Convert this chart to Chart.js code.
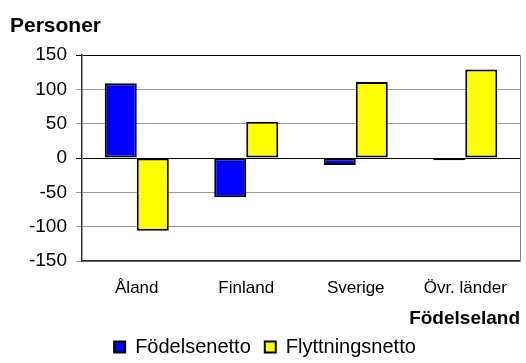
<!DOCTYPE html>
<html>
<head>
<meta charset="utf-8">
<script src="https://cdn.jsdelivr.net/npm/chart.js@4/dist/chart.umd.min.js"></script>
<style>
  html, body { margin: 0; padding: 0; background: #fff; }
  #wrap { width: 526px; height: 363px; }
</style>
</head>
<body>
<div id="wrap"><canvas id="flytt"></canvas></div>
<script>
const categories = ['Åland', 'Finland', 'Sverige', 'Övr. länder'];
const fodelsenetto = [109, -57, -10, -3];
const flyttningsnetto = [-106, 53, 111, 129];
const yMin = -150, yMax = 150, yStep = 50;

const FONT = "'Liberation Sans', Arial, sans-serif";

// thin grey frame line on the right edge of the plot area
const rightEdge = {
    id: 'rightEdge',
    afterDraw(chart) {
        const { ctx, chartArea } = chart;
        ctx.save();
        ctx.strokeStyle = '#808080';
        ctx.lineWidth = 1;
        ctx.beginPath();
        ctx.moveTo(chartArea.right + 0.5, chartArea.top);
        ctx.lineTo(chartArea.right + 0.5, chartArea.bottom);
        ctx.stroke();
        ctx.restore();
    }
};

new Chart(document.getElementById('flytt'), {
    type: 'bar',
    data: {
        labels: categories,
        datasets: [
            {
                label: 'Födelsenetto',
                data: fodelsenetto,
                backgroundColor: '#0000ff',
                borderColor: '#000',
                borderWidth: 2,
                borderSkipped: false
            },
            {
                label: 'Flyttningsnetto',
                data: flyttningsnetto,
                backgroundColor: '#ffff00',
                borderColor: '#000',
                borderWidth: 2,
                borderSkipped: false
            }
        ]
    },
    options: {
        responsive: true, maintainAspectRatio: false,
        animation: false,
        layout: { padding: { left: 10, right: 6, top: 4, bottom: -4 } },
        datasets: { bar: { categoryPercentage: 0.585, barPercentage: 1 } },
        scales: {
            x: {
                afterFit(scale) { scale.height = 62; },
                grid: { display: false, drawTicks: false },
                border: { color: '#333', width: 1.5 },
                ticks: { color: '#000', font: { family: FONT, size: 17 }, padding: 17, maxRotation: 0 },
                title: {
                    display: true, text: 'Födelseland', align: 'end', color: '#000',
                    font: { family: FONT, size: 19, weight: 'bold' }, padding: { top: 0, bottom: -7 }
                }
            },
            y: {
                min: yMin, max: yMax,
                afterFit(scale) { scale.width = 72; },
                grid: {
                    color: c => (c.tick.value === 0 || c.tick.value === yMax) ? '#000' : '#999',
                    lineWidth: 1,
                    tickLength: 6
                },
                border: { color: '#333', width: 1.5 },
                ticks: { stepSize: yStep, color: '#000', font: { family: FONT, size: 19 }, padding: 9 }
            }
        },
        plugins: {
            title: {
                display: true, text: 'Personer', align: 'start', color: '#000',
                font: { family: FONT, size: 21, weight: 'bold' }, padding: { top: 10, bottom: 16 }
            },
            legend: {
                position: 'bottom',
                labels: {
                    color: '#000', font: { family: FONT, size: 20 },
                    boxWidth: 11, boxHeight: 11, padding: 14
                }
            },
            tooltip: { enabled: false }
        }
    },
    plugins: [rightEdge]
});
</script>
</body>
</html>
